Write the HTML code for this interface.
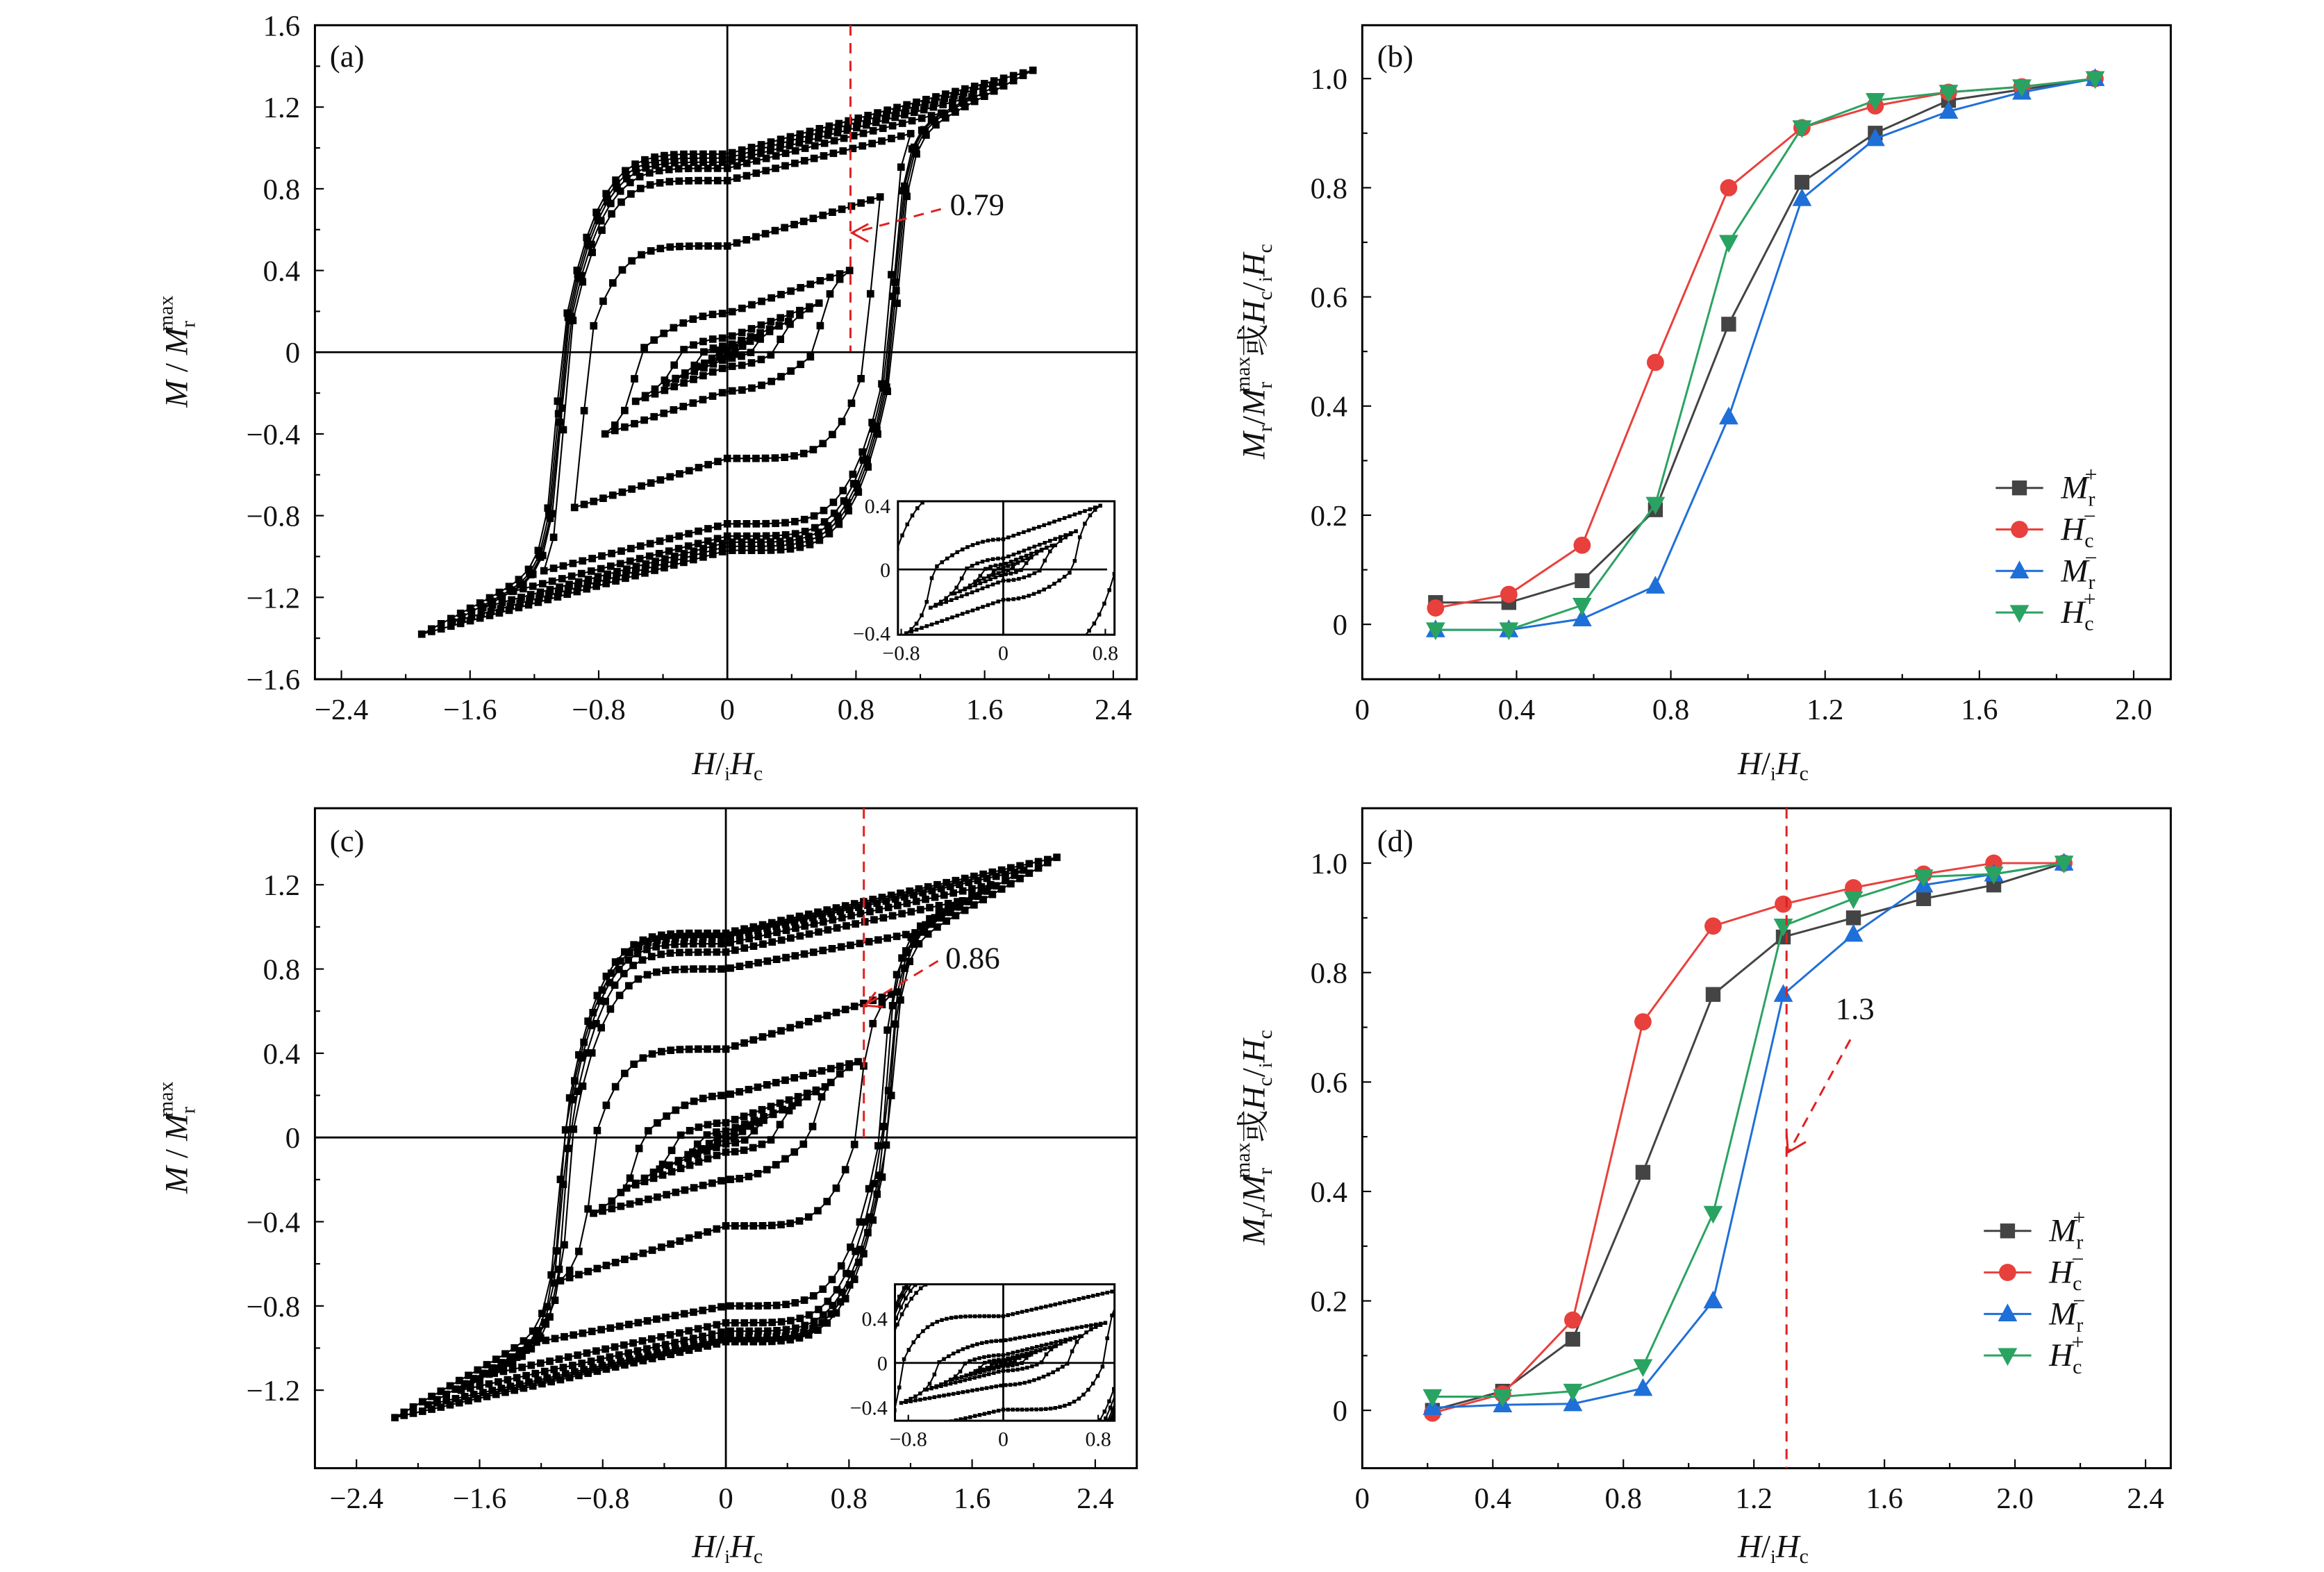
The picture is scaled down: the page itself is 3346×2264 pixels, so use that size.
<!DOCTYPE html>
<html><head><meta charset="utf-8">
<style>
html,body{margin:0;padding:0;background:#fff;}
svg{display:block;}
text{font-family:"Liberation Serif","Noto Serif CJK SC",serif;fill:#111;}
</style></head>
<body>
<svg id="fig" xmlns="http://www.w3.org/2000/svg" width="3346" height="2264" viewBox="0 0 1566 1060">
<defs>
<clipPath id="clipA"><rect x="212" y="17" width="554" height="441"/></clipPath>
<clipPath id="clipC"><rect x="212" y="545" width="554" height="445"/></clipPath>
<clipPath id="clipAi"><rect x="605" y="338" width="146" height="90"/></clipPath>
<clipPath id="clipCi"><rect x="603" y="866" width="148" height="92"/></clipPath>
</defs>
</svg>
<script>
// ---- hysteresis loop data (panel a) ----
const loopA_Hmax=[0.19,0.38,0.57,0.76,0.95,1.14,1.33,1.52,1.71,1.9];
const loopA_tip=[0.07,0.15,0.24,0.40,0.76,1.07,1.17,1.25,1.32,1.38];
const loopA_rem=[0.01,0.03,0.07,0.19,0.52,0.84,0.90,0.93,0.95,0.97];
const loopA_coer=[0.06,0.15,0.3,0.55,0.88,1.0,1.01,1.02,1.03,1.04];
// ---- hysteresis loop data (panel c) ----
const loopC_Hmax=[0.215,0.43,0.645,0.86,1.075,1.29,1.505,1.72,1.935,2.15];
const loopC_tip=[0.07,0.15,0.24,0.36,0.68,0.98,1.12,1.2,1.27,1.33];
const loopC_rem=[0.01,0.03,0.07,0.2,0.42,0.8,0.88,0.92,0.95,0.97];
const loopC_coer=[0.07,0.16,0.32,0.55,0.85,1.0,1.02,1.04,1.05,1.06];
// ---- panel b ----
const bX=[0.19,0.38,0.57,0.76,0.95,1.14,1.33,1.52,1.71,1.9];
const bMrP=[0.04,0.04,0.08,0.21,0.55,0.81,0.90,0.96,0.98,1.0];
const bHcM=[0.03,0.055,0.145,0.48,0.80,0.91,0.95,0.975,0.985,1.0];
const bMrM=[-0.01,-0.01,0.01,0.07,0.38,0.78,0.89,0.94,0.975,1.0];
const bHcP=[-0.01,-0.01,0.035,0.22,0.70,0.91,0.96,0.975,0.985,1.0];
// ---- panel d ----
const dX=[0.215,0.43,0.645,0.86,1.075,1.29,1.505,1.72,1.935,2.15];
const dMrP=[0,0.035,0.13,0.435,0.76,0.865,0.90,0.935,0.96,1.0];
const dHcM=[-0.005,0.03,0.165,0.71,0.885,0.925,0.955,0.98,1.0,1.0];
const dMrM=[0.005,0.01,0.012,0.04,0.20,0.76,0.87,0.96,0.98,1.0];
const dHcP=[0.025,0.025,0.035,0.08,0.36,0.885,0.935,0.975,0.98,1.0];
// ---- ticks ----
const ticksAx=[-2.4,-1.6,-0.8,0,0.8,1.6,2.4];
const ticksAy=[-1.6,-1.2,-0.8,-0.4,0,0.4,0.8,1.2,1.6];
const ticksCx=[-2.4,-1.6,-0.8,0,0.8,1.6,2.4];
const ticksCy=[-1.2,-0.8,-0.4,0,0.4,0.8,1.2];
const ticksBx=[0,0.4,0.8,1.2,1.6,2.0];
const ticksDx=[0,0.4,0.8,1.2,1.6,2.0,2.4];
const ticksBy=[0,0.2,0.4,0.6,0.8,1.0];
const insetTicks=[-0.8,0,0.8];
const insetTicksY=[-0.4,0,0.4];

const NS="http://www.w3.org/2000/svg";
const svg=document.getElementById('fig');
function mk(tag,attrs,parent){const e=document.createElementNS(NS,tag);for(const k in attrs)e.setAttribute(k,attrs[k]);(parent||svg).appendChild(e);return e;}
function fmt(v,dec){if(Math.abs(v)<1e-9)return "0";let s=Math.abs(v).toFixed(dec);return (v<0?"\u2212":"")+s;}

function frame(x,y,w,h,name){
  const r=mk('rect',{x:x,y:y,width:w,height:h,fill:'none',stroke:'#000','stroke-width':1.4});
  
  
}
function axes(P){
  const g=mk('g',{});
  
  
  P.xt.forEach((v,i)=>{
    const X=P.xs(v);
    mk('line',{x1:X,x2:X,y1:P.y1,y2:P.y1-6,stroke:'#000','stroke-width':1},g);
    if(i<P.xt.length-1){const m=P.xs((v+P.xt[i+1])/2);mk('line',{x1:m,x2:m,y1:P.y1,y2:P.y1-3.5,stroke:'#000','stroke-width':1},g);}
    const t=mk('text',{x:X,y:P.y1+27,'text-anchor':'middle','font-size':20},g);
    t.textContent=fmt(v,P.xd);
    
    
  });
  P.yt.forEach((v,i)=>{
    const Y=P.ys(v);
    mk('line',{x1:P.x0,x2:P.x0+6,y1:Y,y2:Y,stroke:'#000','stroke-width':1},g);
    if(i<P.yt.length-1){const m=P.ys((v+P.yt[i+1])/2);mk('line',{x1:P.x0,x2:P.x0+3.5,y1:m,y2:m,stroke:'#000','stroke-width':1},g);}
    const t=mk('text',{x:P.x0-10,y:Y+7,'text-anchor':'end','font-size':20},g);
    t.textContent=fmt(v,P.yd);
    
    
  });
}
function descBranch(A,T,R,C,H){
  if(H>=0)return R+(T-R)*(H/A);
  const h=-H;
  const p=A<0.9?2:5;
  if(h<=C)return R*(1-Math.pow(h/C,p));
  const k=Math.min(0.42,0.5*T/(A-C)), w=Math.min(0.06,(A-C)/3);
  const span=A-C, S=T-k*span;
  return -(S*(1-Math.exp(-(h-C)/w))/(1-Math.exp(-span/w))+k*(h-C));
}
function drawLoops(Hm,Tp,Rm,Cc,xs,ys,clip,name,ms,step){
  const g=mk('g',{'clip-path':'url(#'+clip+')'});
  
  
  for(let i=0;i<Hm.length;i++){
    const A=Hm[i],T=Tp[i],R=Rm[i],C=Cc[i];
    const n=Math.max(8,Math.round(2*A/step));
    const pts=[];
    for(let j=0;j<=n;j++){const H=A-2*A*j/n;pts.push([H,descBranch(A,T,R,C,H)]);}
    for(let j=0;j<=n;j++){const H=-A+2*A*j/n;pts.push([H,-descBranch(A,T,R,C,-H)]);}
    const d=pts.map((p,k)=>(k?'L':'M')+xs(p[0]).toFixed(1)+' '+ys(p[1]).toFixed(1)).join('');
    const pl=mk('path',{d:d,fill:'none',stroke:'#000','stroke-width':1},g);
    
    
    let dm='';
    pts.forEach(p=>{const X=xs(p[0]),Y=ys(p[1]);dm+='M'+(X-ms/2).toFixed(1)+' '+(Y-ms/2).toFixed(1)+'h'+ms+'v'+ms+'h'+(-ms)+'z';});
    const mp=mk('path',{d:dm,fill:'#000'},g);
    
    
  }
}
function crossLines(x0,x1,y0,y1,X,Y,name){
  const a=mk('line',{x1:x0,x2:x1,y1:Y,y2:Y,stroke:'#000','stroke-width':1.3});
  
  
  const b=mk('line',{x1:X,x2:X,y1:y0,y2:y1,stroke:'#000','stroke-width':1.3});
  
  
}
function label(x,y,s,name){const t=mk('text',{x:x,y:y,'font-size':21});t.textContent=s;}

function xTitle(x,y,name){
  const t=mk('text',{x:x,y:y,'text-anchor':'middle','font-size':22});
  
  
  t.innerHTML='<tspan font-style="italic">H</tspan>/<tspan font-size="13" dy="4">i</tspan><tspan font-style="italic" dy="-4">H</tspan><tspan font-size="14" dy="4">c</tspan>';
}
function yTitleM(x,y,name){
  const t=mk('text',{x:0,y:0,'text-anchor':'middle','font-size':22,transform:'translate('+x+','+y+') rotate(-90)'});
  
  
  t.innerHTML='<tspan font-style="italic">M</tspan> / <tspan font-style="italic">M</tspan><tspan font-size="14" dy="5">r</tspan><tspan font-size="14" dx="-7" dy="-15">max</tspan>';
}
function yTitleB(x,y,name){
  const t=mk('text',{x:0,y:0,'text-anchor':'middle','font-size':22,transform:'translate('+x+','+y+') rotate(-90)'});
  
  
  t.innerHTML='<tspan font-style="italic">M</tspan><tspan font-size="14" dy="5">r</tspan><tspan dy="-5">/</tspan><tspan font-style="italic">M</tspan><tspan font-size="14" dy="5">r</tspan><tspan font-size="14" dx="-7" dy="-15">max</tspan><tspan dy="10">或</tspan><tspan font-style="italic">H</tspan><tspan font-size="14" dy="5">c</tspan><tspan dy="-5">/</tspan><tspan font-size="13" dy="5">i</tspan><tspan font-style="italic" dy="-5">H</tspan><tspan font-size="14" dy="5">c</tspan>';
}
function redDash(pts,name,head){
  const p=mk('polyline',{points:pts.map(q=>q.join(',')).join(' '),fill:'none',stroke:'#e02020','stroke-width':1.4,'stroke-dasharray':'7,5'});
  
  
  if(head){
    const h=mk('polyline',{points:head.map(q=>q.join(',')).join(' '),fill:'none',stroke:'#e02020','stroke-width':1.4});
    
    
  }
}

// ========== Panel (a) ==========
{
const xs=v=>490+v*108.4, ys=v=>237.5-v*137.75;
frame(212,17,554,441,'panel-a-frame');
axes({name:'panel-a',xs:xs,ys:ys,xt:ticksAx,yt:ticksAy,x0:212,y1:458,xd:1,yd:1});
crossLines(212,766,17,458,xs(0),ys(0),'panel-a');
drawLoops(loopA_Hmax,loopA_tip,loopA_rem,loopA_coer,xs,ys,'clipA','panel-a-loops',5,0.06);
label(222,45,'(a)','panel-a-label');
redDash([[573,17],[573,237]],'panel-a-dashed-line');
redDash([[634,141],[575,157]],'panel-a-arrow',[[585,151],[574,157],[585,163]]);
label(640,145,'0.79','panel-a-annotation');
xTitle(490,522,'panel-a-x-title');
yTitleM(126,237,'panel-a-y-title');
const ixs=v=>676+v*86, iys=v=>384-v*107.5;
const bg=mk('rect',{x:605,y:338,width:146,height:90,fill:'#fff'});


crossLines(605,746,338,428,676,384,'panel-a-inset');
drawLoops(loopA_Hmax,loopA_tip,loopA_rem,loopA_coer,ixs,iys,'clipAi','panel-a-inset-loops',2.6,0.04);
frame(605,338,146,90,'panel-a-inset-frame');
insetTicks.forEach(v=>{const t=mk('text',{x:ixs(v),y:445,'text-anchor':'middle','font-size':14});t.textContent=fmt(v,1);mk('line',{x1:ixs(v),x2:ixs(v),y1:428,y2:424,stroke:'#000'});});
insetTicksY.forEach(v=>{const t=mk('text',{x:600,y:iys(v)+5,'text-anchor':'end','font-size':14});t.textContent=fmt(v,1);});
}
// ========== Panel (c) ==========
{
const xs=v=>489+v*103.75, ys=v=>767-v*142;
frame(212,545,554,445,'panel-c-frame');
axes({name:'panel-c',xs:xs,ys:ys,xt:ticksCx,yt:ticksCy,x0:212,y1:990,xd:1,yd:1});
crossLines(212,766,545,990,xs(0),ys(0),'panel-c');
drawLoops(loopC_Hmax,loopC_tip,loopC_rem,loopC_coer,xs,ys,'clipC','panel-c-loops',5,0.06);
label(222,574,'(c)','panel-c-label');
redDash([[582,545],[582,767]],'panel-c-dashed-line');
redDash([[632,648],[584,677]],'panel-c-arrow',[[590,669],[583,678],[595,679]]);
label(637,653,'0.86','panel-c-annotation');
xTitle(490,1050,'panel-c-x-title');
yTitleM(126,767,'panel-c-y-title');
const ixs=v=>676+v*80, iys=v=>919-v*75;
const bg=mk('rect',{x:603,y:866,width:148,height:92,fill:'#fff'});


crossLines(603,751,866,958,676,919,'panel-c-inset');
drawLoops(loopC_Hmax,loopC_tip,loopC_rem,loopC_coer,ixs,iys,'clipCi','panel-c-inset-loops',2.6,0.04);
frame(603,866,148,92,'panel-c-inset-frame');
insetTicks.forEach(v=>{const t=mk('text',{x:ixs(v),y:975,'text-anchor':'middle','font-size':14});t.textContent=fmt(v,1);mk('line',{x1:ixs(v),x2:ixs(v),y1:958,y2:954,stroke:'#000'});});
insetTicksY.forEach(v=>{const t=mk('text',{x:598,y:iys(v)+5,'text-anchor':'end','font-size':14});t.textContent=fmt(v,1);});
}

const colors={mrp:'#444444',hcm:'#e8403c',mrm:'#1f6fd8',hcp:'#2aa362'};
function marker(g,type,X,Y,col){
  let e;
  if(type==='sq')e=mk('rect',{x:X-5,y:Y-5,width:10,height:10,fill:col},g);
  else if(type==='ci')e=mk('circle',{cx:X,cy:Y,r:5.8,fill:col},g);
  else if(type==='up')e=mk('polygon',{points:(X)+','+(Y-7)+' '+(X-6.5)+','+(Y+5)+' '+(X+6.5)+','+(Y+5),fill:col},g);
  else e=mk('polygon',{points:(X)+','+(Y+7)+' '+(X-6.5)+','+(Y-5)+' '+(X+6.5)+','+(Y-5),fill:col},g);
  return e;
}
function series(xv,yv,xs,ys,col,type,name){
  const g=mk('g',{});
  
  
  mk('polyline',{points:xv.map((x,i)=>xs(x).toFixed(1)+','+ys(yv[i]).toFixed(1)).join(' '),fill:'none',stroke:col,'stroke-width':1.4},g);
  xv.forEach((x,i)=>{const m=marker(g,type,xs(x),ys(yv[i]),col);});
}
function legend(x,y0,dy,name){
  const items=[['mrp','sq','M','r','+'],['hcm','ci','H','c','\u2212'],['mrm','up','M','r','\u2212'],['hcp','dn','H','c','+']];
  items.forEach((it,i)=>{
    const Y=y0+i*dy;
    const g=mk('g',{});
    
    
    mk('line',{x1:x,x2:x+32,y1:Y,y2:Y,stroke:colors[it[0]],'stroke-width':1.4},g);
    marker(g,it[1],x+16,Y,colors[it[0]]);
    const t=mk('text',{x:x+44,y:Y+7,'font-size':22},g);
    t.innerHTML='<tspan font-style="italic">'+it[2]+'</tspan><tspan font-size="14" dy="5">'+it[3]+'</tspan><tspan font-size="15" dx="-7" dy="-16">'+it[4]+'</tspan>';
  });
}
// ========== Panel (b) ==========
{
const xs=v=>918+v*260, ys=v=>421-v*368;
frame(918,17,545,441,'panel-b-frame');
axes({name:'panel-b',xs:xs,ys:ys,xt:ticksBx,yt:ticksBy,x0:918,y1:458,xd:1,yd:1});
series(bX,bMrP,xs,ys,colors.mrp,'sq','panel-b-mr-plus');
series(bX,bHcM,xs,ys,colors.hcm,'ci','panel-b-hc-minus');
series(bX,bMrM,xs,ys,colors.mrm,'up','panel-b-mr-minus');
series(bX,bHcP,xs,ys,colors.hcp,'dn','panel-b-hc-plus');
label(928,45,'(b)','panel-b-label');
legend(1345,329,28,'panel-b-legend');
xTitle(1195,522,'panel-b-x-title');
yTitleB(852,237,'panel-b-y-title');
}
// ========== Panel (d) ==========
{
const xs=v=>918+v*220, ys=v=>951-v*369;
frame(918,545,545,445,'panel-d-frame');
axes({name:'panel-d',xs:xs,ys:ys,xt:ticksDx,yt:ticksBy,x0:918,y1:990,xd:1,yd:1});
series(dX,dMrP,xs,ys,colors.mrp,'sq','panel-d-mr-plus');
series(dX,dHcM,xs,ys,colors.hcm,'ci','panel-d-hc-minus');
series(dX,dMrM,xs,ys,colors.mrm,'up','panel-d-mr-minus');
series(dX,dHcP,xs,ys,colors.hcp,'dn','panel-d-hc-plus');
label(928,574,'(d)','panel-d-label');
legend(1337,830,28,'panel-d-legend');
redDash([[1204,545],[1204,990]],'panel-d-dashed-line');
redDash([[1247,701],[1206,776]],'panel-d-arrow',[[1204,764],[1205,777],[1217,770]]);
label(1237,687,'1.3','panel-d-annotation');
xTitle(1195,1050,'panel-d-x-title');
yTitleB(852,767,'panel-d-y-title');
}
</script>
</body></html>
